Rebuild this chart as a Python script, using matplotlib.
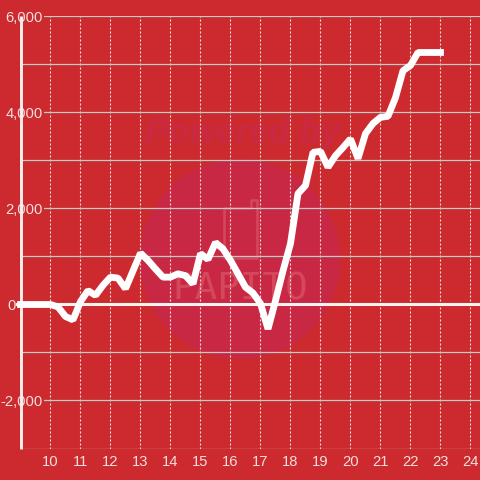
import numpy as np
import matplotlib
matplotlib.use('Agg')
import matplotlib.pyplot as plt
from matplotlib.patches import Circle, Polygon

hours = np.arange(9, 23.01, 0.25)
values = [0, 0, 0, 0, 0,
          -50, -250, -320, 60, 290, 190, 400, 570, 550, 330, 700,
          1070, 920, 740, 570, 570, 640, 600, 430, 1060, 940, 1290, 1160,
          920, 640, 360, 240, 20, -510, 80, 700, 1270, 2310, 2480, 3170,
          3190, 2860, 3100, 3270, 3450, 3040, 3560, 3770, 3900, 3920, 4310, 4870,
          4980, 5250, 5250, 5250, 5250]
x_ticks = list(range(10, 25))
y_ticks = [-3000, -2000, -1000, 0, 1000, 2000, 3000, 4000, 5000, 6000]
y_labels = ['', '-2,000', '', '0', '', '2,000', '', '4,000', '', '6,000']

BG = '#cc2a2e'
TXT = '#f6dedc'
GRID = '#c3cac6'
plt.rcParams['font.family'] = ['Liberation Sans', 'DejaVu Sans']

fig = plt.figure(figsize=(4.8, 4.8), dpi=100, facecolor=BG)
S = 480.0
ax = fig.add_axes([20.5 / S, 1 - 448.5 / S, (S - 20.5) / S, 432 / S])
ax.patch.set_visible(False)
ax.set_zorder(5)
ax.set_xlim(9, 24.317)
ax.set_ylim(-3000, 6000)

# watermark, in figure pixels
def fx(x): return x / S
def fy(y): return 1 - y / S
WM = '#d5485b'
fig.patches.append(Circle((240, S - 259), 100, transform=None, facecolor='#c92845', edgecolor='none', zorder=1))
logo_outline = [(224, 208), (251, 208), (251, 200), (257, 200), (257, 258), (224, 258)]
fig.patches.append(Polygon([(a, S - b) for a, b in logo_outline], closed=True, transform=None,
                           facecolor='none', edgecolor=WM, linewidth=1.8, joinstyle='round', zorder=2))
fig.text(fx(243), fy(134), 'Powered by', ha='center', va='center', fontsize=25, fontweight='bold',
         style='italic', color='#c92a42', zorder=2)
fig.text(fx(240), fy(290), 'PAPITO', ha='center', va='center', fontsize=27, family='DejaVu Sans Mono',
         color=WM, zorder=2)

for s in ['top', 'right', 'bottom']:
    ax.spines[s].set_visible(False)
ax.spines['left'].set_color('#f4f0ee')
ax.spines['left'].set_linewidth(2.1)
ax.spines['left'].set_capstyle('butt')

ax.set_xticks(x_ticks)
ax.set_yticks(y_ticks)
ax.set_yticklabels(y_labels)
ax.tick_params(axis='both', length=0, labelsize=10.6, labelcolor=TXT)
ax.tick_params(axis='x', pad=5)
ax.grid(axis='y', color=GRID, lw=0.9, zorder=1)
ax.grid(axis='x', color='#e6e6df', lw=0.8, ls=(0, (1.8, 1.8)), zorder=1)
ax.set_axisbelow(True)
ax.axhline(0, xmin=-0.008, color='#f6f2f0', lw=2.2, zorder=2, clip_on=False)

for tick, lab in zip(ax.yaxis.get_major_ticks(), y_labels):
    tick.set_pad(3.3 if lab == '0' else -16.0)
    tick.label1.set_zorder(4)
    if lab and lab != '0':
        tick.label1.set_bbox(dict(facecolor=BG, edgecolor='none', pad=1.2))

ax.plot(hours, values, color='white', lw=4.9, solid_joinstyle='bevel', solid_capstyle='projecting',
        clip_on=False, zorder=3)

fig.savefig('out.png', dpi=100, facecolor=BG)
